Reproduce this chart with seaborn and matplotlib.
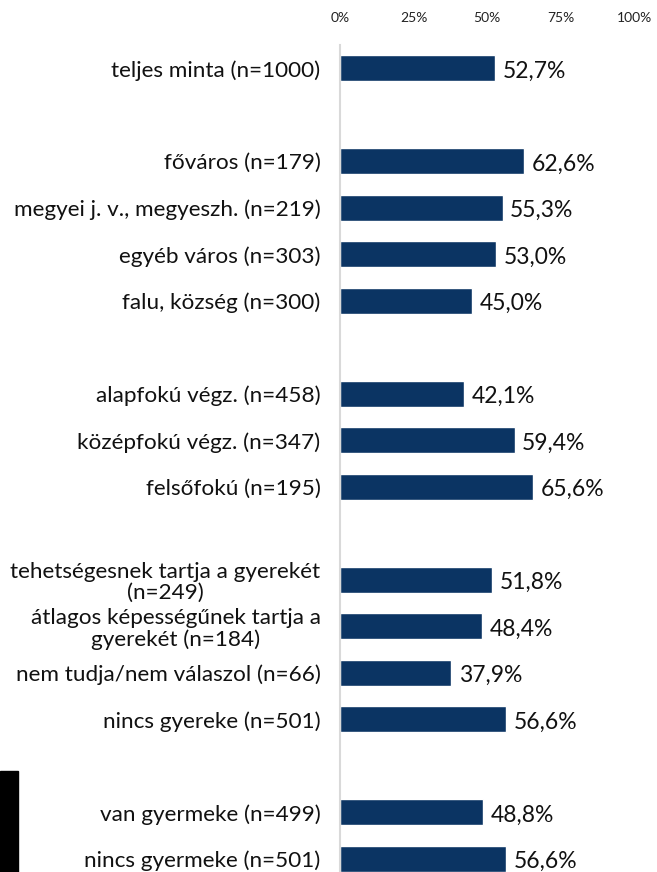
import matplotlib
matplotlib.use('Agg')
import matplotlib.pyplot as plt
import pandas as pd
import seaborn as sns
from matplotlib.patches import Rectangle

# Data (empty strings = gaps between groups)
labels = ['teljes minta (n=1000)', '',
          'főváros (n=179)', 'megyei j. v., megyeszh. (n=219)',
          'egyéb város (n=303)', 'falu, község (n=300)', ' ',
          'alapfokú végz. (n=458)', 'középfokú végz. (n=347)',
          'felsőfokú (n=195)', '  ',
          'tehetségesnek tartja a gyerekét\n(n=249)',
          'átlagos képességűnek tartja a\ngyerekét (n=184)',
          'nem tudja/nem válaszol (n=66)', 'nincs gyereke (n=501)', '   ',
          'van gyermeke (n=499)', 'nincs gyermeke (n=501)']
values = [52.7, None,
          62.6, 55.3, 53.0, 45.0, None,
          42.1, 59.4, 65.6, None,
          51.8, 48.4, 37.9, 56.6, None,
          48.8, 56.6]
ticks = [0, 25, 50, 75, 100]

df = pd.DataFrame({'label': labels, 'value': values})
bars = df.dropna()

sns.set_style('white')
plt.rcParams['font.family'] = ['Lato', 'DejaVu Sans']

fig = plt.figure(figsize=(6.57, 8.72), dpi=100)
ax = fig.add_axes([340 / 657, -10 / 872, 294 / 657, 837 / 872])

sns.barplot(data=bars, x='value', y='label', order=labels, color='#0B3463',
            width=0.55, saturation=1, ax=ax)

ax.set_xlim(0, 100)
ax.set_xticks(ticks)
ax.set_xticklabels([f'{t}%' for t in ticks], fontsize=10, color='#222222')
ax.xaxis.tick_top()
ax.tick_params(axis='x', length=0, pad=15)
ax.tick_params(axis='y', length=0, pad=14)
ax.set_xlabel('')
ax.set_ylabel('')
for lab in ax.get_yticklabels():
    lab.set_fontsize(16.2)
    lab.set_multialignment('center')
    lab.set_linespacing(1.1)
    lab.set_color('#111111')

for s in ['top', 'right', 'bottom']:
    ax.spines[s].set_visible(False)
ax.spines['left'].set_color('#D9D9D9')
ax.spines['left'].set_linewidth(1.5)

for i, v in enumerate(values):
    if v is None:
        continue
    ax.text(v + 2.6, i + 0.06, f'{v:.1f}%'.replace('.', ','), va='center',
            ha='left', fontsize=16.5, color='#111111')

fig.patches.append(Rectangle((0, 0), 18 / 657, 101 / 872, color='black',
                             transform=fig.transFigure, figure=fig))

fig.savefig('out.png', dpi=100)
